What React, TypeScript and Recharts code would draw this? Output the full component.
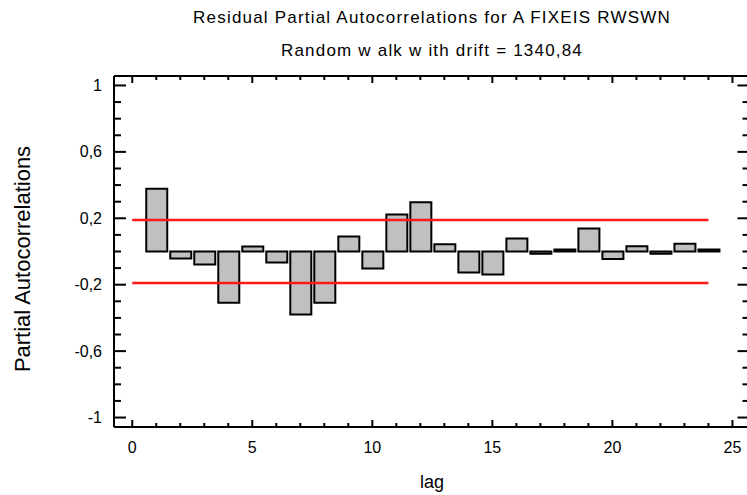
import { ComposedChart, Bar, XAxis, YAxis, ReferenceLine } from 'recharts';

const lags = [1, 2, 3, 4, 5, 6, 7, 8, 9, 10, 11, 12, 13, 14, 15, 16, 17, 18, 19, 20, 21, 22, 23, 24];
const pacf = [
  0.378, -0.042, -0.078, -0.308, 0.03, -0.066, -0.38, -0.308, 0.09, -0.103, 0.223, 0.296,
  0.044, -0.127, -0.139, 0.078, -0.013, 0.012, 0.139, -0.045, 0.032, -0.013, 0.046, 0.012,
];
const upperLimit = 0.19;
const lowerLimit = -0.19;
const limitLags = [0, 24];

const xTicks = [0, 1, 2, 3, 4, 5, 6, 7, 8, 9, 10, 11, 12, 13, 14, 15, 16, 17, 18, 19, 20, 21, 22, 23, 24, 25];
const xLabelTicks = [0, 5, 10, 15, 20, 25];
const yTicks = [-1, -0.9, -0.8, -0.7, -0.6, -0.5, -0.4, -0.3, -0.2, -0.1, 0, 0.1, 0.2, 0.3, 0.4, 0.5, 0.6, 0.7, 0.8, 0.9, 1];
const yLabelTicks = [-1, -0.6, -0.2, 0.2, 0.6, 1];

const data = lags.map((lag, i) => ({ lag, pacf: pacf[i] }));

const FONT = "'Liberation Sans', Arial, sans-serif";
const isIn = (list: number[], v: number) => list.some((t) => Math.abs(t - v) < 1e-6);
const fmt = (v: number) => String(v).replace('.', ',');

const BottomTick = (props: any) => {
  const { x, y, payload } = props;
  const major = isIn(xLabelTicks, payload.value);
  return (
    <g>
      <line x1={x} y1={y} x2={x} y2={y - (major ? 7 : 4)} stroke="#000" strokeWidth={2} />
      {major && (
        <text x={x} y={y + 20} textAnchor="middle" dominantBaseline="central" fontFamily={FONT} fontSize={16} fill="#000">
          {payload.value}
        </text>
      )}
    </g>
  );
};

const TopTick = (props: any) => {
  const { x, y, payload } = props;
  const major = isIn(xLabelTicks, payload.value);
  return <line x1={x} y1={y} x2={x} y2={y + (major ? 7 : 4)} stroke="#000" strokeWidth={2} />;
};

const LeftTick = (props: any) => {
  const { x, y, payload } = props;
  const major = isIn(yLabelTicks, payload.value);
  return (
    <g>
      <line x1={x} y1={y} x2={x + (major ? 12 : 7)} y2={y} stroke="#000" strokeWidth={2} />
      {major && (
        <text x={x - 12} y={y} textAnchor="end" dominantBaseline="central" fontFamily={FONT} fontSize={16} fill="#000">
          {fmt(payload.value)}
        </text>
      )}
    </g>
  );
};

const RightTick = (props: any) => {
  const { x, y, payload } = props;
  const major = isIn(yLabelTicks, payload.value);
  return <line x1={x} y1={y} x2={x - (major ? 12 : 7)} y2={y} stroke="#000" strokeWidth={2} />;
};

const axisLine = { stroke: '#000', strokeWidth: 2 };

export default function App() {
  return (
    <div style={{ position: 'absolute', left: 0, top: 0, width: 747, height: 495, overflow: 'hidden', background: '#fff' }}>
      <div style={{ position: 'absolute', left: 114, width: 636, top: 8, textAlign: 'center', fontFamily: FONT, fontSize: 17, lineHeight: '20px', letterSpacing: 1.2, whiteSpace: 'nowrap' }}>
        Residual Partial Autocorrelations for A FIXEIS RWSWN
      </div>
      <div style={{ position: 'absolute', left: 114, width: 636, top: 41, textAlign: 'center', fontFamily: FONT, fontSize: 17, lineHeight: '20px', letterSpacing: 1.2, whiteSpace: 'nowrap' }}>
        Random w alk w ith drift = 1340,84
      </div>
      <div style={{ position: 'absolute', left: 23, top: 259, transform: 'translate(-50%, -50%) rotate(-90deg)', fontFamily: FONT, fontSize: 22, lineHeight: '24px', whiteSpace: 'nowrap' }}>
        Partial Autocorrelations
      </div>
      <div style={{ position: 'absolute', left: 432, top: 482, transform: 'translate(-50%, -50%)', fontFamily: FONT, fontSize: 18, lineHeight: '22px', whiteSpace: 'nowrap' }}>
        lag
      </div>
      <ComposedChart width={760} height={495} data={data} margin={{ top: 75, right: 9.5, bottom: 0, left: 0 }}>
        <XAxis
          xAxisId="bottom"
          dataKey="lag"
          type="number"
          domain={[-0.76, 25.71]}
          allowDataOverflow
          ticks={xTicks}
          interval={0}
          height={68}
          tickSize={0}
          tickMargin={0}
          tickLine={false}
          axisLine={axisLine}
          tick={<BottomTick />}
        />
        <XAxis
          xAxisId="top"
          orientation="top"
          dataKey="lag"
          type="number"
          domain={[-0.76, 25.71]}
          allowDataOverflow
          ticks={xTicks}
          interval={0}
          height={1}
          tickSize={0}
          tickMargin={0}
          tickLine={false}
          axisLine={axisLine}
          tick={<TopTick />}
        />
        <YAxis
          yAxisId="left"
          type="number"
          domain={[-1.057, 1.057]}
          allowDataOverflow
          ticks={yTicks}
          interval={0}
          width={114}
          tickSize={0}
          tickMargin={0}
          tickLine={false}
          axisLine={axisLine}
          tick={<LeftTick />}
        />
        <YAxis
          yAxisId="right"
          orientation="right"
          type="number"
          domain={[-1.057, 1.057]}
          allowDataOverflow
          ticks={yTicks}
          interval={0}
          width={1}
          tickSize={0}
          tickMargin={0}
          tickLine={false}
          axisLine={axisLine}
          tick={<RightTick />}
        />
        <Bar
          xAxisId="bottom"
          yAxisId="left"
          dataKey="pacf"
          barSize={21}
          fill="#c0c0c0"
          stroke="#000"
          strokeWidth={2}
          isAnimationActive={false}
        />
        <ReferenceLine
          xAxisId="bottom"
          yAxisId="left"
          segment={[{ x: limitLags[0], y: upperLimit }, { x: limitLags[1], y: upperLimit }]}
          stroke="#ff1a1a"
          strokeWidth={2.5}
        />
        <ReferenceLine
          xAxisId="bottom"
          yAxisId="left"
          segment={[{ x: limitLags[0], y: lowerLimit }, { x: limitLags[1], y: lowerLimit }]}
          stroke="#ff1a1a"
          strokeWidth={2.5}
        />
      </ComposedChart>
    </div>
  );
}
